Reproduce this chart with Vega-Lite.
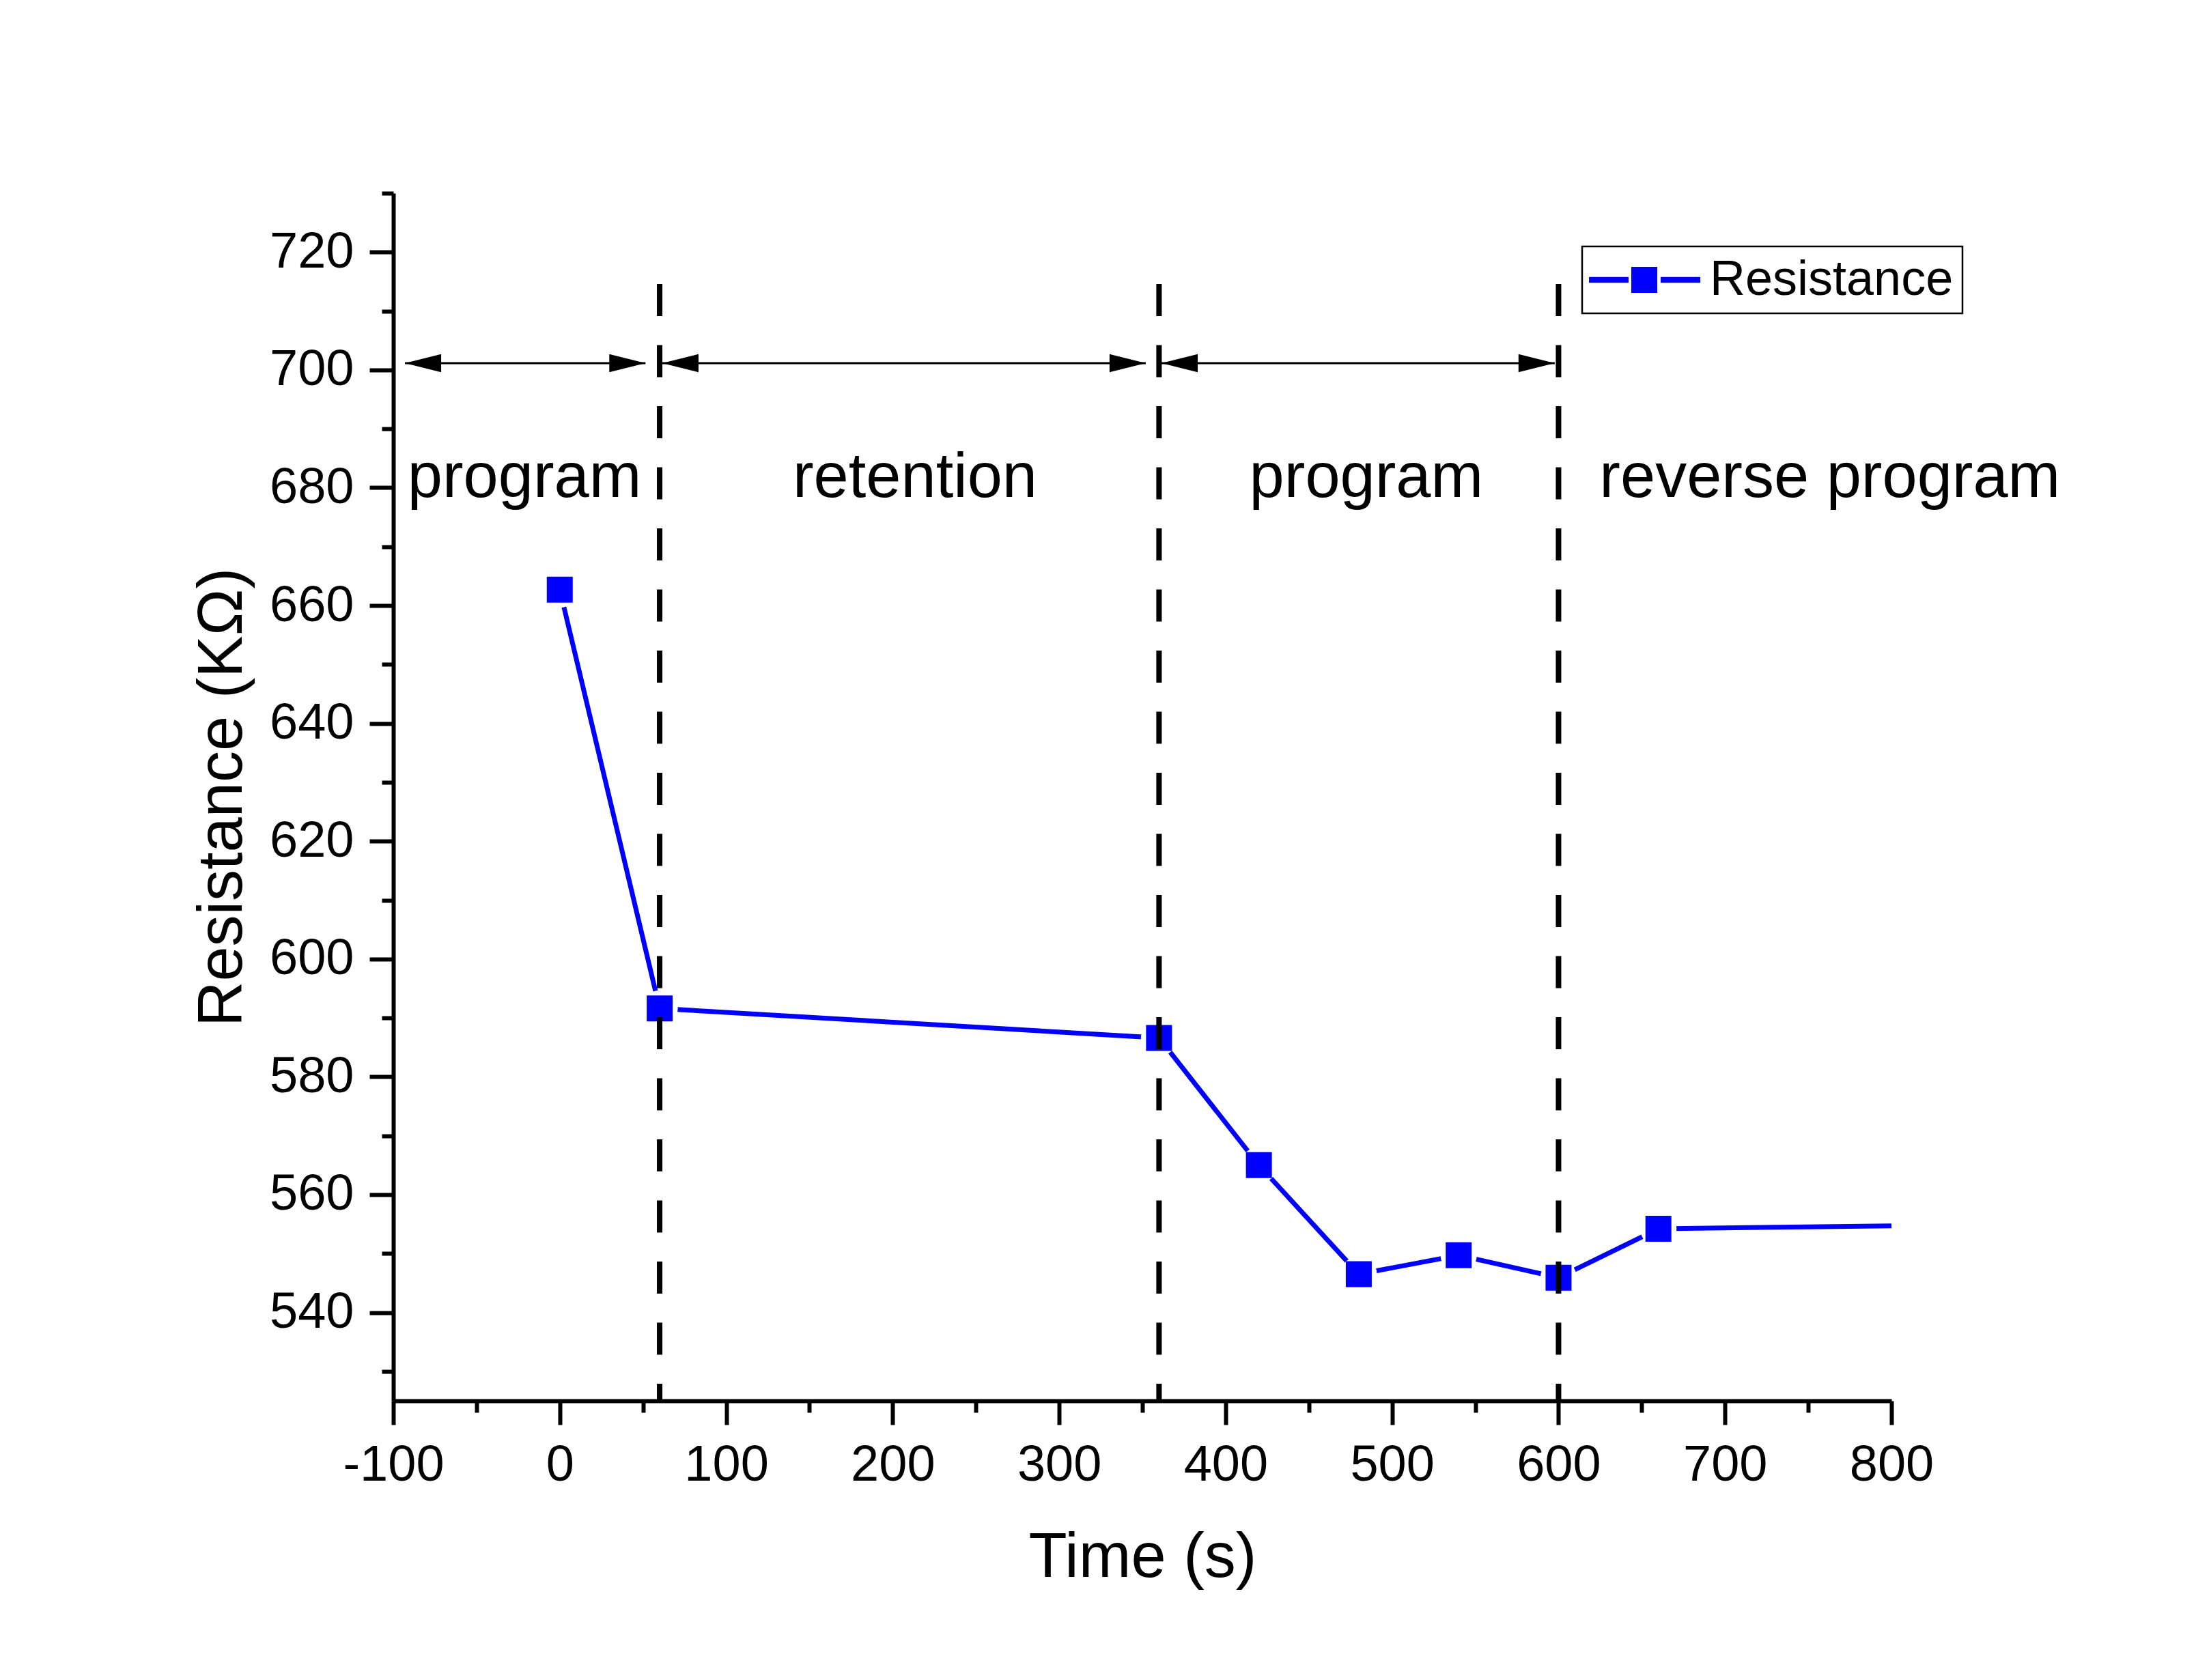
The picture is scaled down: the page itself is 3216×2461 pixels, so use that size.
{
  "$schema": "https://vega.github.io/schema/vega-lite/v6.json",
  "width": 2194,
  "height": 1769,
  "autosize": "none",
  "padding": {"left": 576, "top": 283, "right": 446, "bottom": 409},
  "background": "white",
  "config": {
    "view": {"stroke": null},
    "font": "Liberation Sans",
    "text": {"font": "Liberation Sans"}
  },
  "datasets": {
    "resistance": [
      {"t": 0, "r": 662.7, "series": "Resistance", "marker": true},
      {"t": 60, "r": 591.6, "series": "Resistance", "marker": true},
      {"t": 360, "r": 586.6, "series": "Resistance", "marker": true},
      {"t": 420, "r": 565.0, "series": "Resistance", "marker": true},
      {"t": 480, "r": 546.5, "series": "Resistance", "marker": true},
      {"t": 540, "r": 549.7, "series": "Resistance", "marker": true},
      {"t": 600, "r": 545.9, "series": "Resistance", "marker": true},
      {"t": 660, "r": 554.2, "series": "Resistance", "marker": true},
      {"t": 800, "r": 554.7, "series": "Resistance", "marker": false}
    ],
    "dividers": [{"t": 60}, {"t": 360}, {"t": 600}],
    "arrows": [
      {"from": -93, "to": 51.5},
      {"from": 61.6, "to": 352},
      {"from": 361.5, "to": 597.7}
    ],
    "phases": [
      {"t": -21.2, "label": "program"},
      {"t": 213.4, "label": "retention"},
      {"t": 484.5, "label": "program"},
      {"t": 763, "label": "reverse program"}
    ]
  },
  "layer": [
    {
      "data": {"name": "resistance"},
      "mark": {"type": "line", "color": "#0000ff", "strokeWidth": 7, "clip": true},
      "encoding": {
        "x": {
          "field": "t", "type": "quantitative",
          "scale": {"domain": [-100, 800], "nice": false, "zero": false},
          "axis": {
            "title": "Time (s)",
            "values": [-100,-50,0,50,100,150,200,250,300,350,400,450,500,550,600,650,700,750,800],
            "labelExpr": "datum.value % 100 === 0 ? '' + datum.value : ''",
            "tickSize": {"condition": {"test": "datum.value % 100 === 0", "value": 35}, "value": 17},
            "tickWidth": 6, "tickColor": "black",
            "domainColor": "black", "domainWidth": 6,
            "labelFont": "Liberation Sans", "labelFontSize": 74, "labelColor": "black",
            "labelPadding": 23, "labelFlush": false, "labelOverlap": false, "labelBound": false,
            "titleFont": "Liberation Sans", "titleFontSize": 92, "titleFontWeight": "normal",
            "titleColor": "black", "titlePadding": 53,
            "grid": false
          }
        },
        "y": {
          "field": "r", "type": "quantitative",
          "scale": {"domain": [525, 730], "nice": false, "zero": false},
          "axis": {
            "title": "Resistance (KΩ)",
            "values": [530,540,550,560,570,580,590,600,610,620,630,640,650,660,670,680,690,700,710,720,730],
            "labelExpr": "datum.value % 20 === 0 ? '' + datum.value : ''",
            "tickSize": {"condition": {"test": "datum.value % 20 === 0", "value": 35}, "value": 17},
            "tickWidth": 6, "tickColor": "black",
            "domainColor": "black", "domainWidth": 6,
            "labelFont": "Liberation Sans", "labelFontSize": 74, "labelColor": "black",
            "labelPadding": 23, "labelFlush": false, "labelOverlap": false, "labelBound": false,
            "titleFont": "Liberation Sans", "titleFontSize": 92, "titleFontWeight": "normal",
            "titleColor": "black", "titlePadding": 22,
            "grid": false
          }
        }
      }
    },
    {
      "data": {"name": "resistance"},
      "transform": [{"filter": "datum.marker"}],
      "mark": {"type": "point", "shape": "circle", "filled": true, "color": "white", "opacity": 1, "size": 2827},
      "encoding": {
        "x": {"field": "t", "type": "quantitative"},
        "y": {"field": "r", "type": "quantitative"}
      }
    },
    {
      "data": {"name": "resistance"},
      "transform": [{"filter": "datum.marker"}],
      "mark": {"type": "point", "shape": "square", "filled": true, "opacity": 1, "size": 1444},
      "encoding": {
        "x": {"field": "t", "type": "quantitative"},
        "y": {"field": "r", "type": "quantitative"},
        "color": {
          "field": "series", "type": "nominal",
          "scale": {"range": ["#0000ff"]},
          "legend": {
            "title": null,
            "orient": "none",
            "legendX": 1741,
            "legendY": 78,
            "strokeColor": "black",
            "padding": 13,
            "labelFont": "Liberation Sans",
            "labelFontSize": 72,
            "labelColor": "black",
            "labelLimit": 0,
            "labelOffset": 60,
            "symbolOffset": 42,
            "symbolType": "M-4.26,-0.23L-1.21,-0.23L-1.21,0.23L-4.26,0.23Z M-1,-1L1,-1L1,1L-1,1Z M1.26,-0.23L4.32,-0.23L4.32,0.23L1.26,0.23Z",
            "symbolSize": 1444,
            "symbolStrokeWidth": 0,
            "symbolOpacity": 1,
            "encode": {"legend": {"update": {"strokeWidth": {"value": 2.5}}}}
          }
        }
      }
    },
    {
      "data": {"name": "dividers"},
      "mark": {"type": "rule", "color": "black", "strokeWidth": 8, "strokeDash": [47, 42.5]},
      "encoding": {
        "x": {"field": "t", "type": "quantitative"},
        "y": {"datum": 714.6, "type": "quantitative"},
        "y2": {"datum": 525}
      }
    },
    {
      "data": {"name": "arrows"},
      "mark": {"type": "rule", "color": "black", "strokeWidth": 3},
      "encoding": {
        "x": {"field": "from", "type": "quantitative"},
        "x2": {"field": "to"},
        "y": {"datum": 701.15, "type": "quantitative"}
      }
    },
    {
      "data": {"name": "arrows"},
      "mark": {"type": "point", "shape": "M0,0L2,-0.5L2,0.5Z", "filled": true, "color": "black", "opacity": 1, "size": 2809},
      "encoding": {
        "x": {"field": "from", "type": "quantitative"},
        "y": {"datum": 701.15, "type": "quantitative"}
      }
    },
    {
      "data": {"name": "arrows"},
      "mark": {"type": "point", "shape": "M0,0L-2,-0.5L-2,0.5Z", "filled": true, "color": "black", "opacity": 1, "size": 2809},
      "encoding": {
        "x": {"field": "to", "type": "quantitative"},
        "y": {"datum": 701.15, "type": "quantitative"}
      }
    },
    {
      "data": {"name": "phases"},
      "mark": {"type": "text", "font": "Liberation Sans", "fontSize": 92, "align": "center", "baseline": "alphabetic", "color": "black"},
      "encoding": {
        "x": {"field": "t", "type": "quantitative"},
        "y": {"datum": 678.4, "type": "quantitative"},
        "text": {"field": "label"}
      }
    }
  ]
}
